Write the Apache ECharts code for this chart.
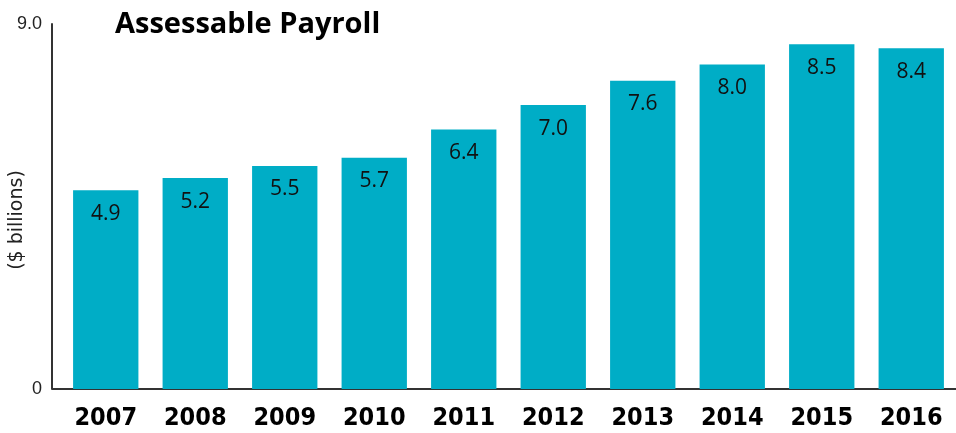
<!DOCTYPE html>
<html>
<head>
<meta charset="utf-8">
<script src="https://cdn.jsdelivr.net/npm/echarts@6/dist/echarts.min.js"></script>
<style>
  html, body { margin: 0; padding: 0; background: #fff; }
  #chart { width: 956px; height: 433px; }
</style>
</head>
<body>
<div id="chart"></div>
<script>
// data
const years = ['2007', '2008', '2009', '2010', '2011', '2012', '2013', '2014', '2015', '2016'];
const payroll = [4.9, 5.2, 5.5, 5.7, 6.4, 7.0, 7.6, 8.0, 8.5, 8.4];
const yTicks = [0, 9];

const chart = echarts.init(document.getElementById('chart'));

const option = {
    animation: false,
    title: {
        text: 'Assessable Payroll',
        left: 110,
        top: 5,
        textStyle: {
            fontFamily: '"Open Sans"',
            fontWeight: 'bold',
            fontSize: 29,
            color: '#000',
            letterSpacing: -1.2
        }
    },
    grid: {
        left: 61,
        right: 0,
        top: 24,
        bottom: 44
    },
    xAxis: {
        type: 'category',
        data: years,
        axisTick: {show: false},
        axisLine: {lineStyle: {color: '#333', width: 2}},
        axisLabel: {
            margin: 17,
            fontFamily: '"Liberation Sans Narrow", "DejaVu Sans Condensed", "Open Sans"',
            fontWeight: 'bold',
            fontSize: 25,
            color: '#000'
        }
    },
    yAxis: {
        type: 'value',
        min: yTicks[0],
        max: yTicks[1],
        interval: 9,
        offset: 9,
        splitLine: {show: false},
        axisTick: {show: false},
        axisLine: {show: true, lineStyle: {color: '#333', width: 2}},
        axisLabel: {
            margin: 10,
            fontFamily: '"Liberation Sans"',
            fontSize: 18,
            color: '#222',
            formatter: v => (v === 0 ? '0' : v.toFixed(1))
        }
    },
    graphic: [
        {   // little stretch of the base line left of the first band
            type: 'line',
            shape: {x1: 52, y1: 389, x2: 62, y2: 389},
            style: {stroke: '#333', lineWidth: 2}
        },
        {
            type: 'text',
            x: 17,
            y: 220,
            rotation: Math.PI / 2,
            style: {
                text: '($ billions)',
                font: '19px "DejaVu Sans"',
                fill: '#222',
                align: 'center',
                verticalAlign: 'middle'
            }
        }
    ],
    series: [
        {
            type: 'bar',
            data: payroll,
            barCategoryGap: '27%',
            itemStyle: {color: '#00adc6'},
            label: {
                show: true,
                position: 'insideTop',
                distance: 13,
                fontFamily: '"Open Sans"',
                fontSize: 21,
                color: '#111',
                formatter: p => p.value.toFixed(1)
            }
        }
    ]
};

chart.setOption(option);
</script>
</body>
</html>
